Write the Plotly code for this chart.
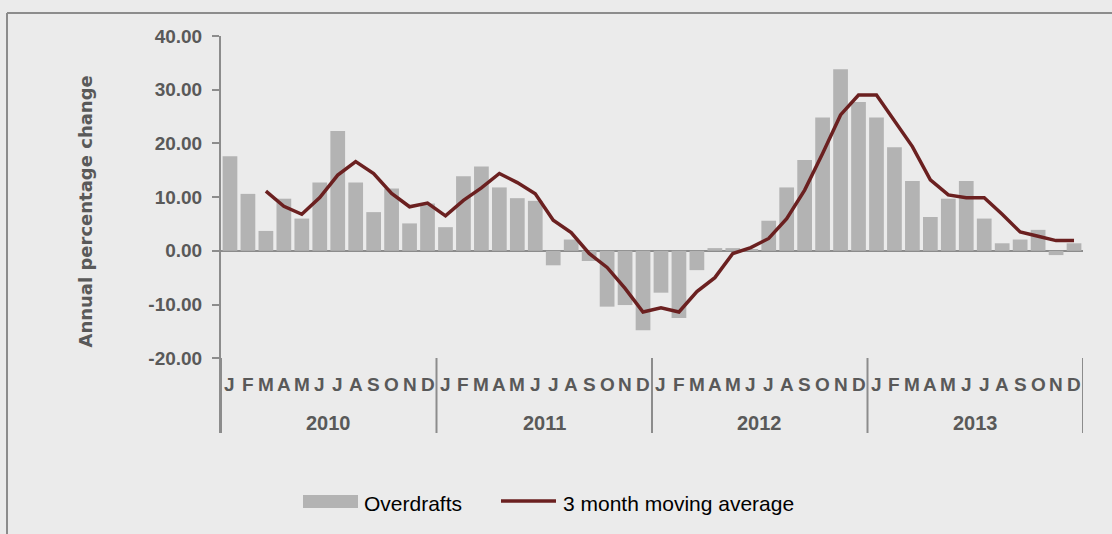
import plotly.graph_objects as go

months = ['J', 'F', 'M', 'A', 'M', 'J', 'J', 'A', 'S', 'O', 'N', 'D']
years = ['2010', '2011', '2012', '2013']

overdrafts = [17.6, 10.6, 3.7, 9.7, 6.0, 12.7, 22.3, 12.7, 7.2, 11.6, 5.1, 8.8,
              4.4, 13.9, 15.7, 11.8, 9.8, 9.3, -2.7, 2.1, -1.9, -10.4, -10.1, -14.8,
              -7.8, -12.5, -3.6, 0.5, 0.5, 0.2, 5.6, 11.8, 16.9, 24.8, 33.8, 27.7,
              24.8, 19.3, 13.0, 6.3, 9.7, 13.0, 6.0, 1.4, 2.1, 3.9, -0.8, 1.4]

moving_avg = [None, None, 11.1, 8.3, 6.8, 9.9, 14.1, 16.6, 14.4, 10.7, 8.2, 8.9,
              6.5, 9.4, 11.7, 14.4, 12.7, 10.6, 5.7, 3.4, -0.5, -3.1, -7.0, -11.4,
              -10.6, -11.4, -7.6, -5.0, -0.5, 0.6, 2.3, 6.0, 11.3, 18.1, 25.3, 29.0,
              29.0, 24.3, 19.4, 13.2, 10.4, 9.9, 9.9, 6.8, 3.5, 2.7, 1.9, 1.9]

y_ticks = [-20, -10, 0, 10, 20, 30, 40]
y_tick_labels = ['-20.00', '-10.00', '0.00', '10.00', '20.00', '30.00', '40.00']

BG = '#ebebeb'
BAR = '#b3b3b3'
LINE = '#6b2020'
AXIS = '#8c8c8c'
TXT = '#595959'
FONT = 'Liberation Sans, Arial, sans-serif'

n = len(overdrafts)
idx = list(range(n))

fig = go.Figure()
fig.add_trace(go.Bar(x=idx, y=overdrafts, marker=dict(color=BAR, line=dict(width=0)),
                     name='Overdrafts', showlegend=False))
fig.add_trace(go.Scatter(x=idx, y=moving_avg, mode='lines',
                         line=dict(color=LINE, width=3.5),
                         name='3 month moving average', showlegend=False))

W, H = 1112, 534
L, R, T, B = 221, 29, 36, 101
pw, ph = W - L - R, H - T - B


def px_x(px):
    return (px - L) / pw


def px_y(py):
    return (H - B - py) / ph


annotations = []
# month letters
for i in idx:
    annotations.append(dict(x=i, y=px_y(384), xref='x', yref='paper',
                            text=months[i % 12], showarrow=False,
                            font=dict(family=FONT, size=19, color=TXT, weight='bold'),
                            xanchor='center', yanchor='middle'))
# year labels
for k, yr in enumerate(years):
    annotations.append(dict(x=k * 12 + 5.5, y=px_y(422.5), xref='x', yref='paper',
                            text=yr, showarrow=False,
                            font=dict(family=FONT, size=20, color=TXT, weight='bold'),
                            xanchor='center', yanchor='middle'))
# y axis title
annotations.append(dict(x=px_x(85), y=px_y(211.5), xref='paper', yref='paper',
                        text='Annual percentage change', textangle=-90, showarrow=False,
                        font=dict(family='DejaVu Sans, sans-serif', size=18, color=TXT, weight='bold'),
                        xanchor='center', yanchor='middle'))
# legend texts
annotations.append(dict(x=px_x(362), y=px_y(503), xref='paper', yref='paper',
                        text='Overdrafts', showarrow=False,
                        font=dict(family=FONT, size=21, color='#000000'),
                        xanchor='left', yanchor='middle'))
annotations.append(dict(x=px_x(561), y=px_y(503), xref='paper', yref='paper',
                        text='3 month moving average', showarrow=False,
                        font=dict(family=FONT, size=21, color='#000000'),
                        xanchor='left', yanchor='middle'))

shapes = []
# year separators
for k in range(len(years) + 1):
    shapes.append(dict(type='line', xref='x', yref='paper',
                       x0=k * 12 - 0.5, x1=k * 12 - 0.5, y0=0, y1=px_y(358),
                       line=dict(color=AXIS, width=2)))
# frame (top and left)
shapes.append(dict(type='line', xref='paper', yref='paper',
                   x0=px_x(7), x1=px_x(1120), y0=px_y(13), y1=px_y(13),
                   line=dict(color=AXIS, width=2)))
shapes.append(dict(type='line', xref='paper', yref='paper',
                   x0=px_x(7), x1=px_x(7), y0=px_y(13), y1=px_y(540),
                   line=dict(color=AXIS, width=2)))
# legend symbols
shapes.append(dict(type='rect', xref='paper', yref='paper',
                   x0=px_x(303), x1=px_x(358), y0=px_y(508), y1=px_y(495),
                   fillcolor=BAR, line=dict(width=0)))
shapes.append(dict(type='line', xref='paper', yref='paper',
                   x0=px_x(501), x1=px_x(556), y0=px_y(501), y1=px_y(501),
                   line=dict(color=LINE, width=3.5)))

fig.update_layout(
    width=W, height=H,
    margin=dict(l=L, r=R, t=T, b=B, pad=0),
    paper_bgcolor=BG, plot_bgcolor=BG,
    bargap=0.18,
    showlegend=False,
    annotations=annotations,
    shapes=shapes,
    xaxis=dict(visible=False, range=[-0.5, n - 0.5], fixedrange=True),
    yaxis=dict(range=[40 - ph / 5.37, 40], tickvals=y_ticks, ticktext=y_tick_labels,
               showgrid=False, zeroline=True, zerolinecolor=AXIS, zerolinewidth=2,
               showline=True, linecolor=AXIS, linewidth=2,
               ticks='outside', ticklen=7, tickwidth=2, tickcolor=AXIS,
               ticklabelstandoff=6,
               tickfont=dict(family=FONT, size=19, color=TXT, weight='bold'),
               layer='above traces', fixedrange=True),
)

fig.write_html('out.html', config={'displayModeBar': False},
               post_script="document.body.style.margin='0';"
                           "document.body.style.background='#ebebeb';"
                           "document.body.style.overflow='hidden';")
